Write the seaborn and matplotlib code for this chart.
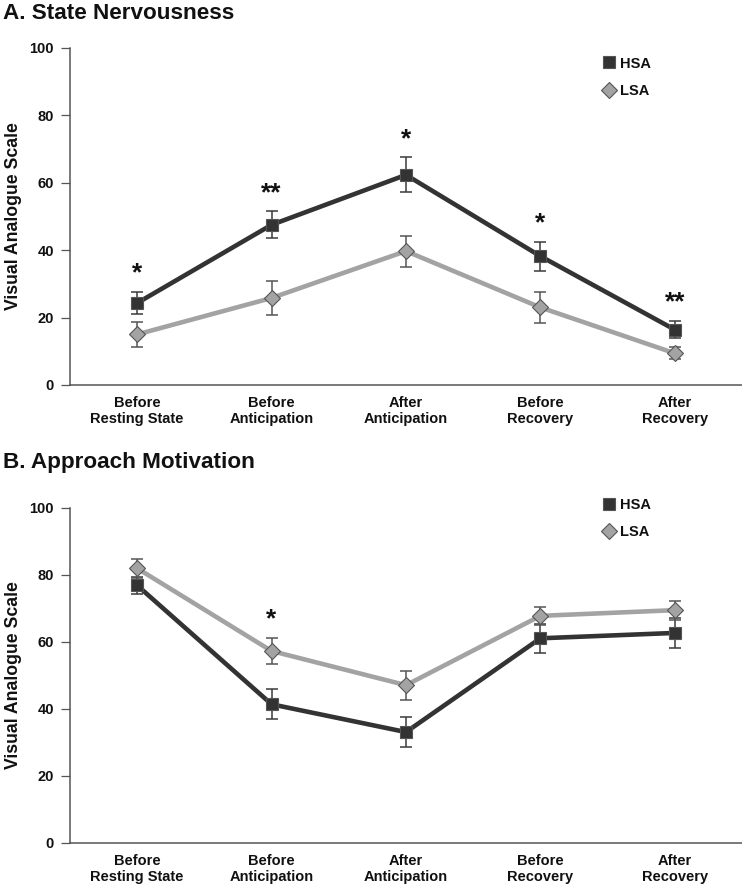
import numpy as np
import pandas as pd
import matplotlib
matplotlib.use("Agg")
import matplotlib.pyplot as plt
import seaborn as sns

# data
timepoints = ["Before\nResting State", "Before\nAnticipation", "After\nAnticipation",
              "Before\nRecovery", "After\nRecovery"]
groups = ["HSA", "LSA"]

# A. State Nervousness
nerv_hsa = [24.3, 47.5, 62.3, 38.2, 16.4]
nerv_hsa_err = [3.3, 4.0, 5.2, 4.3, 2.5]
nerv_lsa = [15.0, 25.8, 39.7, 23.0, 9.4]
nerv_lsa_err = [3.7, 4.9, 4.6, 4.6, 1.8]
nerv_stars = ["*", "**", "*", "*", "**"]

# B. Approach Motivation
appr_hsa = [76.9, 41.4, 33.1, 61.1, 62.7]
appr_hsa_err = [2.5, 4.5, 4.6, 4.3, 4.4]
appr_lsa = [82.0, 57.3, 47.1, 67.8, 69.5]
appr_lsa_err = [2.8, 4.0, 4.3, 2.7, 2.8]
appr_stars = ["", "*", "", "", ""]

sns.set_style("white")
plt.rcParams["font.family"] = ["Liberation Sans", "DejaVu Sans"]
plt.rcParams["font.weight"] = "bold"

colors = {"HSA": "#333333", "LSA": "#a3a3a3"}
err_colors = {"HSA": "#3a3a3a", "LSA": "#555555"}
markers = {"HSA": "s", "LSA": "D"}
edge = {"HSA": "#555555", "LSA": "#555555"}

fig = plt.figure(figsize=(7.42, 8.85), dpi=100)
ax_a = fig.add_axes([0.0943, 0.565, 0.9057, 0.381])
ax_b = fig.add_axes([0.0943, 0.0475, 0.9057, 0.3785])


def draw_panel(ax, hsa, hsa_err, lsa, lsa_err, stars, leg_y):
    df = pd.DataFrame({
        "time": list(range(len(timepoints))) * 2,
        "value": hsa + lsa,
        "err": hsa_err + lsa_err,
        "group": ["HSA"] * len(hsa) + ["LSA"] * len(lsa),
    })
    for g in groups:
        sub = df[df["group"] == g]
        ax.errorbar(sub["time"], sub["value"], yerr=sub["err"], fmt="none",
                    ecolor=err_colors[g], elinewidth=1.1, capsize=4, capthick=1.1, zorder=2)
    for g in groups:
        sub = df[df["group"] == g]
        sns.lineplot(data=sub, x="time", y="value", ax=ax, color=colors[g],
                     marker=markers[g], markersize=9 if g == "HSA" else 8.5,
                     markeredgecolor=edge[g], markeredgewidth=0.8,
                     linewidth=3.3, label=g, zorder=3 if g == "HSA" else 2.5)
    tops = (df.assign(top=df["value"] + df["err"]).groupby("time")["top"].max())
    for i, s in enumerate(stars):
        if s:
            ax.text(i, tops[i] + 3.4, s, ha="center", va="baseline",
                    fontsize=19, fontweight="bold", color="#111111")

    ax.set_xlim(-0.5, 4.5)
    ax.set_ylim(0, 100)
    ax.set_yticks([0, 20, 40, 60, 80, 100])
    ax.set_xticks(range(len(timepoints)))
    ax.set_xticklabels(timepoints, fontsize=10.5, fontweight="bold", color="#111111")
    ax.tick_params(axis="y", left=True, labelsize=10.5, length=6.5, width=0.9,
                   color="#555555", labelcolor="#111111", pad=5)
    ax.tick_params(axis="x", bottom=False, length=0, pad=8)
    ax.set_xlabel("")
    ax.set_ylabel("Visual Analogue Scale", fontsize=12.7, fontweight="bold", color="#111111")
    ax.yaxis.set_label_coords(-0.071, 0.5)
    for side in ["top", "right"]:
        ax.spines[side].set_visible(False)
    for side in ["left", "bottom"]:
        ax.spines[side].set_color("#555555")
        ax.spines[side].set_linewidth(1.1)
    leg = ax.legend(loc="upper left", bbox_to_anchor=(0.78, leg_y), frameon=False,
                    fontsize=10.5, handlelength=0.8, handletextpad=0.4,
                    labelspacing=0.9, borderaxespad=0.2)
    for text in leg.get_texts():
        text.set_color("#111111")
    for line in leg.get_lines():
        line.set_linestyle("none")
        line.set_linewidth(0)


draw_panel(ax_a, nerv_hsa, nerv_hsa_err, nerv_lsa, nerv_lsa_err, nerv_stars, 1.0)
draw_panel(ax_b, appr_hsa, appr_hsa_err, appr_lsa, appr_lsa_err, appr_stars, 1.057)

fig.text(0.004, 0.985, "A. State Nervousness", fontsize=16.2, fontweight="bold",
         ha="left", va="center", color="#111111")
fig.text(0.004, 0.477, "B. Approach Motivation", fontsize=16.2, fontweight="bold",
         ha="left", va="center", color="#111111")

fig.savefig("out.png", dpi=100)
